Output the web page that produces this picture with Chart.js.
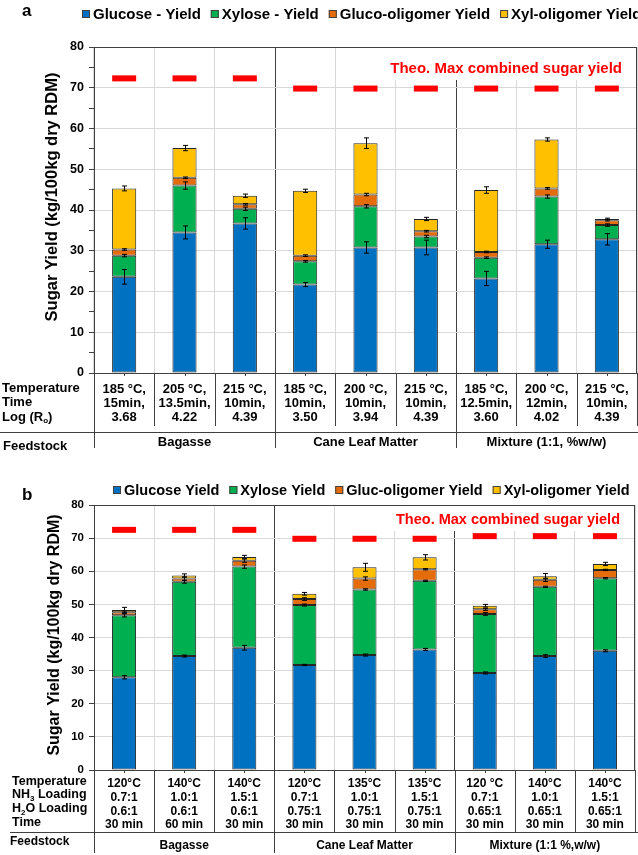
<!DOCTYPE html>
<html lang="en">
<head>
  <meta charset="UTF-8">
  <title>Sugar Yield - Pretreatment Comparison</title>
  <script src="https://cdn.jsdelivr.net/npm/chart.js"></script>
  <style>
    body { margin: 0; background: #fff; }
    canvas { position: absolute; left: 0; }
    #panelA { top: 0; }
    #panelB { top: 470px; }
  </style>
</head>
<body>
<canvas id="panelA" width="638" height="470"></canvas>
<canvas id="panelB" width="638" height="385"></canvas>
<script>
// ---- panel a : dilute acid data ----
var seriesA = ['Glucose - Yield', 'Xylose - Yield', 'Gluco-oligomer Yield', 'Xyl-oligomer Yield'];
var glucoseA = [23.6, 34.5, 36.7, 21.7, 30.8, 30.8, 23.2, 31.6, 32.8];
var xyloseA = [5.2, 11.5, 3.6, 5.7, 10.1, 2.7, 5.1, 11.7, 3.5];
var glucoOligoA = [1.5, 1.9, 1.1, 1.4, 2.9, 1.3, 1.4, 2.0, 1.2];
var xylOligoA = [15.0, 7.3, 2.1, 15.9, 12.6, 3.0, 15.2, 12.0, 0.3];
var glucoseErrA = [1.8, 1.6, 1.4, 0.5, 1.4, 1.8, 1.75, 1.0, 1.4];
var xyloseErrA = [0.3, 0.9, 0.4, 0.2, 0.4, 0.3, 0.2, 0.4, 0.3];
var glucoOligoErrA = [0.2, 0.2, 0.2, 0.2, 0.3, 0.2, 0.2, 0.2, 0.2];
var xylOligoErrA = [0.6, 0.65, 0.4, 0.4, 1.3, 0.4, 0.8, 0.4, 0.2];
var theoMaxA = [72.3, 72.3, 72.3, 69.8, 69.8, 69.8, 69.8, 69.8, 69.8];
var rowLabelsA = ['Temperature', 'Time', 'Log (R_o)'];
var conditionsA = [
  ['185 °C,', '15min,', '3.68'], ['205 °C,', '13.5min,', '4.22'], ['215 °C,', '10min,', '4.39'],
  ['185 °C,', '10min,', '3.50'], ['200 °C,', '10min,', '3.94'], ['215 °C,', '10min,', '4.39'],
  ['185 °C,', '12.5min,', '3.60'], ['200 °C,', '12min,', '4.02'], ['215 °C,', '10min,', '4.39']
];
var feedstocksA = ['Bagasse', 'Cane Leaf Matter', 'Mixture (1:1, %w/w)'];

// ---- panel b : ammonia data ----
var seriesB = ['Glucose Yield', 'Xylose Yield', 'Gluc-oligomer Yield', 'Xyl-oligomer Yield'];
var glucoseB = [28.0, 34.4, 36.9, 31.7, 34.7, 36.4, 29.3, 34.4, 36.0];
var xyloseB = [18.7, 22.4, 24.5, 18.1, 19.8, 20.7, 17.8, 20.9, 21.9];
var glucoOligoB = [0.9, 1.0, 1.8, 1.8, 3.3, 3.5, 1.4, 2.1, 2.5];
var xylOligoB = [0.7, 0.9, 1.1, 1.6, 3.4, 3.6, 1.1, 1.1, 1.8];
var glucoseErrB = [0.5, 0.3, 0.7, 0.2, 0.3, 0.3, 0.3, 0.4, 0.3];
var xyloseErrB = [0.5, 0.4, 0.5, 0.3, 0.2, 0.2, 0.4, 0.2, 0.2];
var glucoOligoErrB = [0.4, 0.5, 0.5, 0.4, 0.5, 0.2, 0.3, 0.5, 0.2];
var xylOligoErrB = [0.8, 0.5, 0.5, 0.4, 1.2, 0.8, 0.4, 0.8, 0.5];
var theoMaxB = [72.5, 72.5, 72.5, 69.8, 69.8, 69.8, 70.6, 70.6, 70.6];
var rowLabelsB = ['Temperature', 'NH_3 Loading', 'H_2O Loading', 'Time'];
var conditionsB = [
  ['120°C', '0.7:1', '0.6:1', '30 min'], ['140°C', '1.0:1', '0.6:1', '60 min'], ['140°C', '1.5:1', '0.6:1', '30 min'],
  ['120°C', '0.7:1', '0.75:1', '30 min'], ['135°C', '1.0:1', '0.75:1', '30 min'], ['135°C', '1.5:1', '0.75:1', '30 min'],
  ['120 °C', '0.7:1', '0.65:1', '30 min'], ['140°C', '1.0:1', '0.65:1', '30 min'], ['140°C', '1.5:1', '0.65:1', '30 min']
];
var feedstocksB = ['Bagasse', 'Cane Leaf Matter', 'Mixture (1:1 %,w/w)'];

var colors = ['#0070c0', '#00b050', '#e46c0a', '#ffc000'];
var FONT = '"Liberation Sans", Arial, sans-serif';
var DARK = '#404040';

// draw text where "_x" means x is a subscript
function richText(ctx, text, x, y, size) {
  var parts = text.split('_');
  ctx.textAlign = 'left';
  ctx.font = 'bold ' + size + 'px ' + FONT;
  ctx.fillText(parts[0], x, y);
  x += ctx.measureText(parts[0]).width;
  for (var i = 1; i < parts.length; i++) {
    var sub = parts[i].charAt(0), rest = parts[i].slice(1);
    ctx.font = 'bold ' + Math.round(size * 0.65) + 'px ' + FONT;
    ctx.fillText(sub, x, y + size * 0.3);
    x += ctx.measureText(sub).width;
    ctx.font = 'bold ' + size + 'px ' + FONT;
    ctx.fillText(rest, x, y);
    x += ctx.measureText(rest).width;
  }
}

function extrasPlugin(p) {
  return {
    id: 'extras',
    afterDatasetsDraw: function (chart) {
      var c = chart.ctx, ys = chart.scales.y;
      c.save();
      c.strokeStyle = '#000';
      c.lineWidth = 1;
      for (var d = 0; d < p.values.length; d++) {
        var meta = chart.getDatasetMeta(d);
        meta.data.forEach(function (bar, j) {
          var top = 0;
          for (var k = 0; k <= d; k++) top += p.values[k][j];
          var e = p.errors[d][j];
          var y1 = ys.getPixelForValue(top + e), y2 = ys.getPixelForValue(top - e);
          var x = Math.round(bar.x) + 0.5;
          c.beginPath();
          c.moveTo(x, y1); c.lineTo(x, y2);
          c.moveTo(x - 2.5, y1); c.lineTo(x + 2.5, y1);
          c.moveTo(x - 2.5, y2); c.lineTo(x + 2.5, y2);
          c.stroke();
        });
      }
      c.restore();
    },
    afterDraw: function (chart) {
      var c = chart.ctx, a = chart.chartArea, xs = chart.scales.x, L = p.layout;
      var n = p.conditions.length, step = (a.right - a.left) / n;
      c.save();
      // frame
      c.strokeStyle = DARK;
      c.lineWidth = 1;
      c.strokeRect(a.left + 0.5, a.top + 0.5, a.right - a.left - 1, a.bottom - a.top);
      // small ticks at bar centres
      c.beginPath();
      for (var i = 0; i < n; i++) {
        var cx = Math.round(xs.getPixelForValue(i)) + 0.5;
        c.moveTo(cx, a.bottom); c.lineTo(cx, a.bottom + 3);
      }
      c.stroke();

      // theo max label on a white box
      c.font = 'bold ' + L.theoSize + 'px ' + FONT;
      var tw = c.measureText(p.theoLabel).width;
      c.fillStyle = '#fff';
      c.fillRect(L.theoRight - tw - 4, a.top + 1, tw + 8, L.theoY - a.top + 10);
      c.fillStyle = '#ff0000';
      c.textAlign = 'right';
      c.textBaseline = 'middle';
      c.fillText(p.theoLabel, L.theoRight, L.theoY);

      // legend
      c.font = 'bold ' + L.legendSize + 'px ' + FONT;
      var lx = L.legendX;
      p.names.forEach(function (name, i) {
        c.fillStyle = colors[i];
        c.fillRect(lx, L.legendY - 4, 8, 8);
        c.strokeStyle = DARK;
        c.strokeRect(lx + 0.5, L.legendY - 3.5, 7, 7);
        c.fillStyle = '#000';
        c.textAlign = 'left';
        c.fillText(name, lx + 11, L.legendY + 1);
        lx += 11 + c.measureText(name).width + 10;
      });

      // panel letter
      c.font = 'bold 17px ' + FONT;
      c.fillText(p.letter, 22, L.letterY);

      // y axis title
      c.save();
      c.translate(L.titleX, L.titleY);
      c.rotate(-Math.PI / 2);
      c.textAlign = 'center';
      c.font = 'bold ' + L.titleSize + 'px ' + FONT;
      c.fillText('Sugar Yield (kg/100kg dry RDM)', 0, 0);
      c.restore();

      // condition table
      c.strokeStyle = DARK;
      c.beginPath();
      for (var b = 0; b <= n; b++) {
        var bx = Math.round(a.left + b * step) + 0.5;
        var isGroup = b % 3 === 0;
        c.moveTo(bx, a.bottom);
        c.lineTo(bx, isGroup && b < n ? L.groupBottom : L.colBottom);
      }
      c.moveTo(L.hLineX, L.hLineY + 0.5);
      c.lineTo(chart.width, L.hLineY + 0.5);
      c.stroke();

      c.fillStyle = '#000';
      c.textBaseline = 'middle';
      p.rowLabels.forEach(function (lab, r) {
        richText(c, lab, L.labelX, L.labelRows[r], L.labelSize);
      });
      c.font = 'bold ' + L.cellSize + 'px ' + FONT;
      c.textAlign = 'center';
      p.conditions.forEach(function (col, i) {
        var cx = xs.getPixelForValue(i);
        col.forEach(function (t, r) { c.fillText(t, cx, L.cellRows[r]); });
      });
      p.feedstocks.forEach(function (f, g) {
        c.fillText(f, a.left + (g * 3 + 1.5) * step, L.groupY);
      });
      c.textAlign = 'left';
      c.fillText('Feedstock', L.feedX, L.feedY);
      c.restore();
    }
  };
}

function buildChart(id, p) {
  var datasets = p.names.map(function (name, i) {
    return {
      type: 'bar', label: name, data: p.values[i], stack: 'sugar',
      backgroundColor: colors[i], borderColor: '#262626', borderWidth: 1, borderSkipped: false,
      barPercentage: 0.4, categoryPercentage: 1
    };
  });
  datasets.push({
    type: 'line', label: 'Theo. Max', data: p.theo, stack: 'theo', showLine: false,
    pointStyle: 'line', pointRadius: 12, pointHoverRadius: 12, pointBorderWidth: 6,
    borderColor: '#ff0000', pointBorderColor: '#ff0000', backgroundColor: '#ff0000'
  });

  return new Chart(document.getElementById(id), {
    type: 'bar',
    data: { labels: p.conditions.map(function (c, i) { return 'c' + i; }), datasets: datasets },
    options: {
      responsive: false,
      animation: false,
      devicePixelRatio: 1,
      layout: { padding: p.padding, autoPadding: false },
      plugins: { legend: { display: false }, tooltip: { enabled: false } },
      scales: {
        x: {
          stacked: true,
          ticks: { display: false },
          grid: {
            offset: true, drawTicks: false,
            color: function (ctx) { return (ctx.index === 3 || ctx.index === 6) ? DARK : '#d9d9d9'; }
          },
          border: { color: DARK },
          afterFit: function (s) { s.height = 0; }
        },
        y: {
          stacked: true, min: 0, max: 80,
          ticks: {
            stepSize: p.yStep, padding: 5, color: '#000',
            font: { family: FONT, weight: 'bold', size: p.tickSize },
            callback: function (v) { return v % 10 === 0 ? v : ''; }
          },
          grid: {
            tickLength: 5, tickColor: DARK,
            color: function (ctx) { return ctx.tick && ctx.tick.value % 10 === 0 ? '#d9d9d9' : 'rgba(0,0,0,0)'; }
          },
          border: { color: DARK },
          afterFit: function (s) { s.width = 94; }
        }
      }
    },
    plugins: [extrasPlugin(p)]
  });
}

buildChart('panelA', {
  letter: 'a', names: seriesA,
  values: [glucoseA, xyloseA, glucoOligoA, xylOligoA],
  errors: [glucoseErrA, xyloseErrA, glucoOligoErrA, xylOligoErrA],
  theo: theoMaxA, theoLabel: 'Theo. Max combined sugar yield',
  rowLabels: rowLabelsA, conditions: conditionsA, feedstocks: feedstocksA,
  yStep: 5, tickSize: 12.5,
  padding: { top: 47, bottom: 97, left: 0, right: 1 },
  layout: {
    legendX: 82, legendY: 14, legendSize: 15, letterY: 11,
    theoRight: 622, theoY: 69, theoSize: 15,
    titleX: 52, titleY: 197, titleSize: 16.5,
    labelX: 2, labelRows: [388.5, 402.5, 417], labelSize: 13,
    cellRows: [389, 403, 417.5], cellSize: 13,
    colBottom: 426, groupBottom: 448, hLineX: 0, hLineY: 432,
    groupY: 442, feedX: 3, feedY: 446
  }
});

buildChart('panelB', {
  letter: 'b', names: seriesB,
  values: [glucoseB, xyloseB, glucoOligoB, xylOligoB],
  errors: [glucoseErrB, xyloseErrB, glucoOligoErrB, xylOligoErrB],
  theo: theoMaxB, theoLabel: 'Theo. Max combined sugar yield',
  rowLabels: rowLabelsB, conditions: conditionsB, feedstocks: feedstocksB,
  yStep: 10, tickSize: 11.5,
  padding: { top: 35, bottom: 85, left: 0, right: 3 },
  layout: {
    legendX: 113, legendY: 20, legendSize: 14.5, letterY: 25,
    theoRight: 620, theoY: 50, theoSize: 14.5,
    titleX: 55, titleY: 165, titleSize: 16,
    labelX: 12, labelRows: [311.5, 325, 339, 352.5], labelSize: 12.5,
    cellRows: [314, 327.5, 341.5, 354.5], cellSize: 12,
    colBottom: 362, groupBottom: 383, hLineX: 10, hLineY: 362,
    groupY: 376, feedX: 10, feedY: 371.5
  }
});
</script>
</body>
</html>
